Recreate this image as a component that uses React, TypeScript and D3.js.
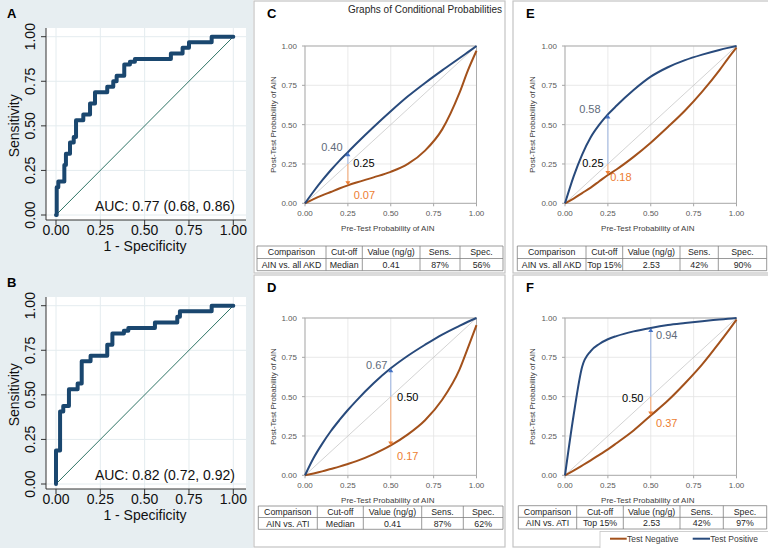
import React from 'react';
import * as d3 from 'd3';

// ---------- DATA ----------
// ROC curves (risers: false-positive rate, true-positive rate)
const ROC_A_FPR = [0, 0.004, 0.013, 0.047, 0.056, 0.079, 0.10, 0.113, 0.154, 0.192, 0.22, 0.289, 0.323, 0.342, 0.385, 0.417, 0.445, 0.648, 0.714, 0.75, 0.878, 1];
const ROC_A_TPR = [0, 0.156, 0.188, 0.281, 0.344, 0.406, 0.438, 0.531, 0.563, 0.625, 0.688, 0.719, 0.75, 0.781, 0.844, 0.859, 0.875, 0.906, 0.938, 0.969, 1, 1];
const ROC_B_FPR = [0, 0, 0.023, 0.041, 0.073, 0.122, 0.145, 0.195, 0.289, 0.318, 0.383, 0.408, 0.558, 0.684, 0.699, 0.878, 1];
const ROC_B_TPR = [0, 0.188, 0.406, 0.438, 0.531, 0.563, 0.688, 0.719, 0.781, 0.844, 0.859, 0.875, 0.906, 0.938, 0.969, 1, 1];
const AUC_A = 'AUC: 0.77 (0.68, 0.86)';
const AUC_B = 'AUC: 0.82 (0.72, 0.92)';

const TICKS = [0, 0.25, 0.5, 0.75, 1];
const TICK_LABELS = ['0.00', '0.25', '0.50', '0.75', '1.00'];

// Conditional probability curves: post-test probability at each pre-test probability
const PRETEST = [0, 0.05, 0.1, 0.15, 0.2, 0.25, 0.3, 0.4, 0.5, 0.6, 0.7, 0.8, 0.9, 0.95, 1];
const C_POS = [0, 0.075, 0.145, 0.21, 0.27, 0.325, 0.38, 0.485, 0.585, 0.68, 0.765, 0.845, 0.922, 0.961, 1];
const C_NEG = [0, 0.026, 0.05, 0.072, 0.094, 0.114, 0.132, 0.165, 0.2, 0.25, 0.335, 0.47, 0.7, 0.845, 0.97];
const D_POS = [0, 0.11, 0.2, 0.28, 0.35, 0.415, 0.475, 0.585, 0.68, 0.76, 0.83, 0.895, 0.95, 0.976, 1];
const D_NEG = [0, 0.012, 0.025, 0.04, 0.055, 0.072, 0.09, 0.135, 0.19, 0.26, 0.35, 0.48, 0.67, 0.81, 0.955];
const E_POS = [0, 0.17, 0.31, 0.42, 0.5, 0.565, 0.62, 0.72, 0.805, 0.865, 0.91, 0.945, 0.975, 0.988, 1];
const E_NEG = [0, 0.03, 0.065, 0.1, 0.14, 0.18, 0.215, 0.295, 0.385, 0.485, 0.59, 0.71, 0.845, 0.92, 0.99];
const F_POS = [0, 0.38, 0.69, 0.79, 0.835, 0.865, 0.885, 0.915, 0.937, 0.955, 0.968, 0.98, 0.99, 0.995, 1];
const F_NEG = [0, 0.03, 0.062, 0.095, 0.13, 0.165, 0.204, 0.285, 0.38, 0.475, 0.585, 0.705, 0.843, 0.915, 0.99];

const ARROW_P = [0.25, 0.5, 0.25, 0.5]; // C, D, E, F
const LABELS_C = ['0.40', '0.25', '0.07'];
const LABELS_D = ['0.67', '0.50', '0.17'];
const LABELS_E = ['0.58', '0.25', '0.18'];
const LABELS_F = ['0.94', '0.50', '0.37'];

const TABLE_HEADER = ['Comparison', 'Cut-off', 'Value (ng/g)', 'Sens.', 'Spec.'];
const TABLE_C = ['AIN vs. all AKD', 'Median', '0.41', '87%', '56%'];
const TABLE_D = ['AIN vs. ATI', 'Median', '0.41', '87%', '62%'];
const TABLE_E = ['AIN vs. all AKD', 'Top 15%', '2.53', '42%', '90%'];
const TABLE_F = ['AIN vs. ATI', 'Top 15%', '2.53', '42%', '97%'];

const LEGEND = ['Test Negative', 'Test Positive'];
const TITLE = 'Graphs of Conditional Probabilities';

// ---------- STYLE ----------
const FONT = "'Liberation Sans', Arial, Helvetica, sans-serif";
const BLUE = '#284a7c';
const BROWN = '#a3511b';
const ROC_NAVY = '#1a476f';

function RocPanel({ fpr, tpr, auc, letter, dy }: any) {
  const x = d3.scaleLinear().domain([0, 1]).range([56, 233.3]);
  const y = d3.scaleLinear().domain([0, 1]).range([215 + dy, 36.7 + dy]);
  const pts: [number, number][] = fpr.map((f: number, i: number) => [f, tpr[i]]);
  const line = d3.line<[number, number]>().x(d => x(d[0])).y(d => y(d[1])).curve(d3.curveStepAfter);
  const axisX = 46, axisY = 220 + dy;
  return (
    <g>
      <rect x={axisX} y={28 + dy} width={200} height={axisY - 28 - dy} fill="#ffffff" />
      {TICKS.map(t => (
        <g key={'g' + t}>
          <line x1={axisX} x2={246} y1={y(t)} y2={y(t)} stroke="#e4ecef" strokeWidth={1} />
          <line x1={x(t)} x2={x(t)} y1={28 + dy} y2={axisY} stroke="#e4ecef" strokeWidth={1} />
        </g>
      ))}
      <line x1={x(0)} y1={y(0)} x2={x(1)} y2={y(1)} stroke="#2f7566" strokeWidth={1} />
      <path d={line(pts) || ''} fill="none" stroke={ROC_NAVY} strokeWidth={4} strokeLinejoin="round" strokeLinecap="round" />
      <line x1={axisX} x2={axisX} y1={28 + dy} y2={axisY} stroke="#333" strokeWidth={1} />
      <line x1={axisX} x2={246} y1={axisY} y2={axisY} stroke="#333" strokeWidth={1} />
      {TICKS.map((t, i) => (
        <g key={'t' + t}>
          <line x1={axisX - 5} x2={axisX} y1={y(t)} y2={y(t)} stroke="#333" />
          <line x1={x(t)} x2={x(t)} y1={axisY} y2={axisY + 5} stroke="#333" />
          <text x={x(t)} y={230 + dy} dy="0.36em" textAnchor="middle" fontSize={14} fontFamily={FONT} fill="#111">{TICK_LABELS[i]}</text>
          <text transform={`translate(30,${y(t)}) rotate(-90)`} dy="0.36em" textAnchor="middle" fontSize={14} fontFamily={FONT} fill="#111">{TICK_LABELS[i]}</text>
        </g>
      ))}
      <text x={145} y={246 + dy} dy="0.36em" textAnchor="middle" fontSize={14} fontFamily={FONT} fill="#111">1 - Specificity</text>
      <text transform={`translate(13.5,${(y(0) + y(1)) / 2}) rotate(-90)`} dy="0.36em" textAnchor="middle" fontSize={14} fontFamily={FONT} fill="#111">Sensitivity</text>
      <text x={235} y={y(0) - 4} textAnchor="end" fontSize={14} fontFamily={FONT} fill="#111">{auc}</text>
      <text x={7} y={18 + dy} fontSize={13} fontWeight="bold" fontFamily={FONT} fill="#000">{letter}</text>
    </g>
  );
}

function Table({ cols, rows, header, values }: any) {
  return (
    <g>
      {[header, values].map((r: string[], ri: number) => (
        <g key={ri}>
          {r.map((c, ci) => (
            <text key={ci} x={(cols[ci] + cols[ci + 1]) / 2} y={(rows[ri] + rows[ri + 1]) / 2} dy="0.36em" textAnchor="middle" fontSize={8.8} fontFamily={FONT} fill="#262626">{c}</text>
          ))}
        </g>
      ))}
      {rows.map((ry: number, i: number) => (
        <line key={'r' + i} x1={cols[0]} x2={cols[cols.length - 1]} y1={ry} y2={ry} stroke="#808080" strokeWidth={0.8} />
      ))}
      {cols.map((cx: number, i: number) => (
        <line key={'c' + i} x1={cx} x2={cx} y1={rows[0]} y2={rows[rows.length - 1]} stroke="#808080" strokeWidth={0.8} />
      ))}
    </g>
  );
}

function CondPanel({ box, letter, plot, pos, neg, p, labels, offs, cols, rows, values, titleY }: any) {
  const x = d3.scaleLinear().domain([0, 1]).range([plot.x0, plot.x1]);
  const y = d3.scaleLinear().domain([0, 1]).range([plot.y0, plot.y1]);
  const line = d3.line<number>().x((_, i) => x(PRETEST[i])).y(d => y(d)).curve(d3.curveMonotoneX);
  const idx = PRETEST.indexOf(p);
  const ax = x(p), yd = y(p), yp = y(pos[idx]), yn = y(neg[idx]);
  return (
    <g>
      <rect x={box.x} y={box.y} width={box.w} height={box.h} fill="#fff" stroke="#c4c4c4" strokeWidth={1.2} />
      <text x={box.x + 13} y={box.y + 17} fontSize={13} fontWeight="bold" fontFamily={FONT} fill="#000">{letter}</text>
      {TICKS.map(t => (
        <g key={'g' + t}>
          <line x1={plot.x0} x2={plot.x1} y1={y(t)} y2={y(t)} stroke="#e3e3e3" strokeWidth={0.8} />
          <line x1={x(t)} x2={x(t)} y1={plot.y0} y2={plot.y1} stroke="#e3e3e3" strokeWidth={0.8} />
        </g>
      ))}
      <line x1={x(0)} y1={y(0)} x2={x(1)} y2={y(1)} stroke="#c8c8c8" strokeWidth={0.8} />
      <rect x={plot.x0} y={plot.y1} width={plot.x1 - plot.x0} height={plot.y0 - plot.y1} fill="none" stroke="#a6a6a6" strokeWidth={0.9} />
      {TICKS.map((t, i) => (
        <g key={'t' + t}>
          <line x1={plot.x0 - 3} x2={plot.x0} y1={y(t)} y2={y(t)} stroke="#a6a6a6" />
          <line x1={x(t)} x2={x(t)} y1={plot.y0} y2={plot.y0 + 3} stroke="#a6a6a6" />
          <text x={plot.x0 - 8} y={y(t)} dy="0.36em" textAnchor="end" fontSize={8} fontFamily={FONT} fill="#595959">{TICK_LABELS[i]}</text>
          <text x={x(t)} y={plot.y0 + 10} dy="0.36em" textAnchor="middle" fontSize={8} fontFamily={FONT} fill="#595959">{TICK_LABELS[i]}</text>
        </g>
      ))}
      <text x={(plot.x0 + plot.x1) / 2 - 3} y={titleY} dy="0.36em" textAnchor="middle" fontSize={8} fontFamily={FONT} fill="#404040">Pre-Test Probability of AIN</text>
      <text transform={`translate(${box.x + 19},${(plot.y0 + plot.y1) / 2}) rotate(-90)`} dy="0.36em" textAnchor="middle" fontSize={8} fontFamily={FONT} fill="#404040">Post-Test Probability of AIN</text>
      <path d={line(neg) || ''} fill="none" stroke={BROWN} strokeWidth={2} />
      <path d={line(pos) || ''} fill="none" stroke={BLUE} strokeWidth={2} />
      <line x1={ax} x2={ax} y1={yd} y2={yp + 3} stroke="#a9bde3" strokeWidth={1.2} />
      <polygon points={`${ax - 2.5},${yp + 4} ${ax + 2.5},${yp + 4} ${ax},${yp}`} fill="#4472c4" />
      <line x1={ax} x2={ax} y1={yd} y2={yn - 3} stroke="#f4b183" strokeWidth={1.2} />
      <polygon points={`${ax - 2.5},${yn - 4} ${ax + 2.5},${yn - 4} ${ax},${yn}`} fill="#ed7d31" />
      <text x={ax + offs[0][0]} y={yp + offs[0][1]} dy="0.36em" textAnchor="middle" fontSize={11} fontFamily={FONT} fill="#5f6b7a">{labels[0]}</text>
      <text x={ax + offs[1][0]} y={yd + offs[1][1]} dy="0.36em" textAnchor="middle" fontSize={11} fontFamily={FONT} fill="#000">{labels[1]}</text>
      <text x={ax + offs[2][0]} y={yn + offs[2][1]} dy="0.36em" textAnchor="middle" fontSize={11} fontFamily={FONT} fill="#ed7d31">{labels[2]}</text>
      <Table cols={cols} rows={rows} header={TABLE_HEADER} values={values} />
    </g>
  );
}

export default function App() {
  return (
    <svg width={768} height={548} style={{ position: 'absolute', left: 0, top: 0, display: 'block' }} xmlns="http://www.w3.org/2000/svg">
      <rect x={0} y={0} width={768} height={548} fill="#ffffff" />
      <rect x={0} y={0} width={253} height={548} fill="#e7eef1" />
      <RocPanel fpr={ROC_A_FPR} tpr={ROC_A_TPR} auc={AUC_A} letter="A" dy={0} />
      <RocPanel fpr={ROC_B_FPR} tpr={ROC_B_TPR} auc={AUC_B} letter="B" dy={269} />

      <CondPanel box={{ x: 254, y: 1, w: 251, h: 272 }} letter="C"
        plot={{ x0: 305, x1: 476.5, y0: 203.3, y1: 46 }} pos={C_POS} neg={C_NEG} p={ARROW_P[0]}
        labels={LABELS_C} offs={[[-16, -5.5], [16, -1.3], [16.5, 10]]}
        cols={[257, 326, 362.3, 420, 460, 503]} rows={[246, 258.5, 270.7]} values={TABLE_C} titleY={228} />
      <CondPanel box={{ x: 254, y: 275, w: 251, h: 272 }} letter="D"
        plot={{ x0: 305, x1: 476.5, y0: 475.3, y1: 318 }} pos={D_POS} neg={D_NEG} p={ARROW_P[1]}
        labels={LABELS_D} offs={[[-14, -3], [17, 0], [17, 10.6]]}
        cols={[258.3, 317.3, 363.3, 421.7, 463.3, 503]} rows={[506, 517.5, 529.3]} values={TABLE_D} titleY={500} />
      <CondPanel box={{ x: 513, y: 1, w: 260, h: 272 }} letter="E"
        plot={{ x0: 565, x1: 736.5, y0: 203.3, y1: 46 }} pos={E_POS} neg={E_NEG} p={ARROW_P[2]}
        labels={LABELS_E} offs={[[-18, -5], [-15, -1], [13, 2]]}
        cols={[517.3, 586, 622.7, 680, 718.3, 766.7]} rows={[246, 258.5, 270.7]} values={TABLE_E} titleY={228} />
      <CondPanel box={{ x: 513, y: 275, w: 260, h: 272 }} letter="F"
        plot={{ x0: 565, x1: 736.5, y0: 475.3, y1: 318 }} pos={F_POS} neg={F_NEG} p={ARROW_P[3]}
        labels={LABELS_F} offs={[[16, 7], [-18, 1], [16, 8]]}
        cols={[518.3, 576.7, 623.3, 680, 723.3, 766.7]} rows={[505.7, 517.3, 529]} values={TABLE_F} titleY={500} />

      <text x={348} y={13} fontSize={10} fontFamily={FONT} fill="#262626">{TITLE}</text>

      <g>
        <rect x={600} y={531.5} width={170} height={18} fill="#fff" stroke="#c4c4c4" strokeWidth={0.8} />
        <line x1={610} x2={626.7} y1={538.7} y2={538.7} stroke={BROWN} strokeWidth={2} />
        <text x={627} y={538.7} dy="0.36em" fontSize={8.5} fontFamily={FONT} fill="#404040">{LEGEND[0]}</text>
        <line x1={692.7} x2={710} y1={538.7} y2={538.7} stroke={BLUE} strokeWidth={2} />
        <text x={710.3} y={538.7} dy="0.36em" fontSize={8.5} fontFamily={FONT} fill="#404040">{LEGEND[1]}</text>
      </g>
    </svg>
  );
}
